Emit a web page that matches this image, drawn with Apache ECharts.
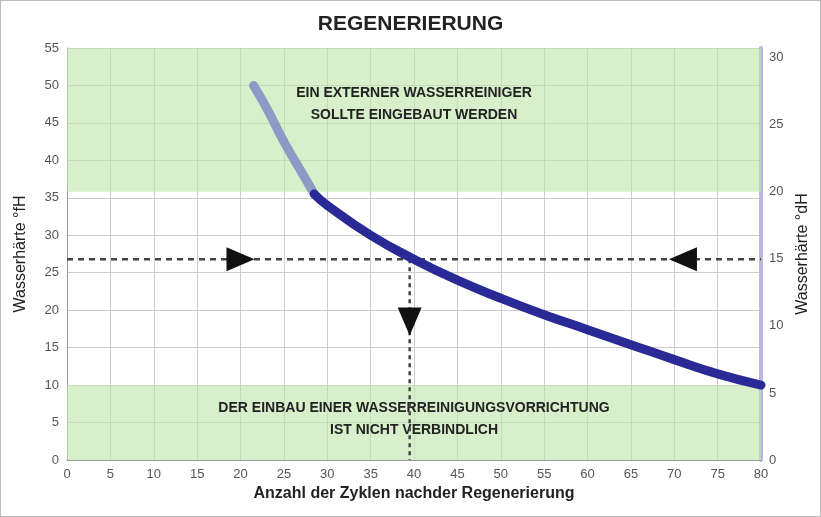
<!DOCTYPE html>
<html><head><meta charset="utf-8">
<script src="https://cdn.jsdelivr.net/npm/echarts@6/dist/echarts.min.js"></script>
<style>html,body{margin:0;padding:0;background:#fff}#c{width:821px;height:517px;box-sizing:border-box;border:1px solid #bbb}</style>
</head><body><div id="c"></div>
<script>
const xTicks=[0,5,10,15,20,25,30,35,40,45,50,55,60,65,70,75,80];
const curveLight=[[21.5,50],[23,47],[25,42.5],[27,38.5],[28.5,35.5]];
const curveDark=[[28.5,35.5],[30,34],[35,30],[40,26.8],[45,24],[50,21.6],[55,19.4],[60,17.4],[65,15.4],[70,13.4],[75,11.5],[80,10]];
const bandTop=[35.8,55];
const bandBottom=[0,10];
const refLevel=26.8;
const refX=39.5;
const arrowsRight=[[20,26.8]];
const arrowsLeft=[[71,26.8]];
const arrowsDown=[[39.5,18.5]];
const fHperdH=1.7905;
const chart=echarts.init(document.getElementById('c'));
const tf='Liberation Sans, Arial, sans-serif';
const arrowStyle={color:'#111',opacity:1};
chart.setOption({
  animation:false,
  title:{text:'REGENERIERUNG',left:'center',top:8,textStyle:{fontFamily:tf,fontSize:21,fontWeight:'bold',color:'#222'}},
  grid:{left:66,right:59,top:47,bottom:56},
  xAxis:{type:'value',min:0,max:80,interval:5,name:'Anzahl der Zyklen nachder Regenerierung',nameLocation:'middle',nameGap:26,
    nameTextStyle:{fontFamily:tf,fontSize:16,fontWeight:'bold',color:'#222'},
    axisLine:{lineStyle:{color:'#999'}},axisTick:{show:false},axisLabel:{color:'#555',fontFamily:tf,fontSize:13},
    splitLine:{lineStyle:{color:'#ccc'}}},
  yAxis:[{type:'value',min:0,max:55,interval:5,name:'Wasserhärte °fH',nameLocation:'middle',nameGap:38,
    nameTextStyle:{fontFamily:tf,fontSize:16,color:'#222'},
    axisLine:{show:true,lineStyle:{color:'#999'}},axisTick:{show:false},axisLabel:{color:'#555',fontFamily:tf,fontSize:13},
    splitLine:{lineStyle:{color:'#ccc'}}},
   {type:'value',min:0,max:55/fHperdH,interval:5,position:'right',name:'Wasserhärte °dH',nameLocation:'middle',nameGap:32,nameRotate:90,
    nameTextStyle:{fontFamily:tf,fontSize:16,color:'#222'},
    axisLine:{show:true,lineStyle:{color:'#b9b9dc',width:4}},axisTick:{show:false},axisLabel:{color:'#555',fontFamily:tf,fontSize:13,margin:8},
    splitLine:{show:false}}],
  series:[
   {type:'line',data:[],markArea:{silent:true,itemStyle:{color:'rgba(190,228,170,0.6)'},
     label:{fontFamily:tf,fontWeight:'bold',fontSize:14,color:'#222',lineHeight:22},
     data:[[{yAxis:bandTop[0],xAxis:0,name:'EIN EXTERNER WASSERREINIGER\nSOLLTE EINGEBAUT WERDEN',label:{position:'inside',offset:[0,-16]}},{yAxis:bandTop[1],xAxis:80}],
           [{yAxis:bandBottom[0],xAxis:0,name:'DER EINBAU EINER WASSERREINIGUNGSVORRICHTUNG\nIST NICHT VERBINDLICH',label:{position:'inside',offset:[0,-3]}},{yAxis:bandBottom[1],xAxis:80}]]}},
   {type:'line',data:[[0,refLevel],[80,refLevel]],symbol:'none',lineStyle:{color:'#444',type:[6,5],width:2.5},z:3},
   {type:'line',data:[[refX,refLevel],[refX,0]],symbol:'none',lineStyle:{color:'#444',type:[4,4],width:2.5},z:3},
   {type:'line',data:curveLight,smooth:true,symbol:'none',lineStyle:{color:'#8d9ac6',width:9,cap:'round'},z:4},
   {type:'line',data:curveDark,smooth:true,symbol:'none',lineStyle:{color:'#2a2a96',width:9,cap:'round'},z:5},
   {type:'scatter',data:arrowsRight,symbol:'triangle',symbolSize:[24,28],symbolRotate:-90,itemStyle:arrowStyle,z:6},
   {type:'scatter',data:arrowsLeft,symbol:'triangle',symbolSize:[24,28],symbolRotate:90,itemStyle:arrowStyle,z:6},
   {type:'scatter',data:arrowsDown,symbol:'triangle',symbolSize:[24,28],symbolRotate:180,itemStyle:arrowStyle,z:6}
  ]
});
</script></body></html>
